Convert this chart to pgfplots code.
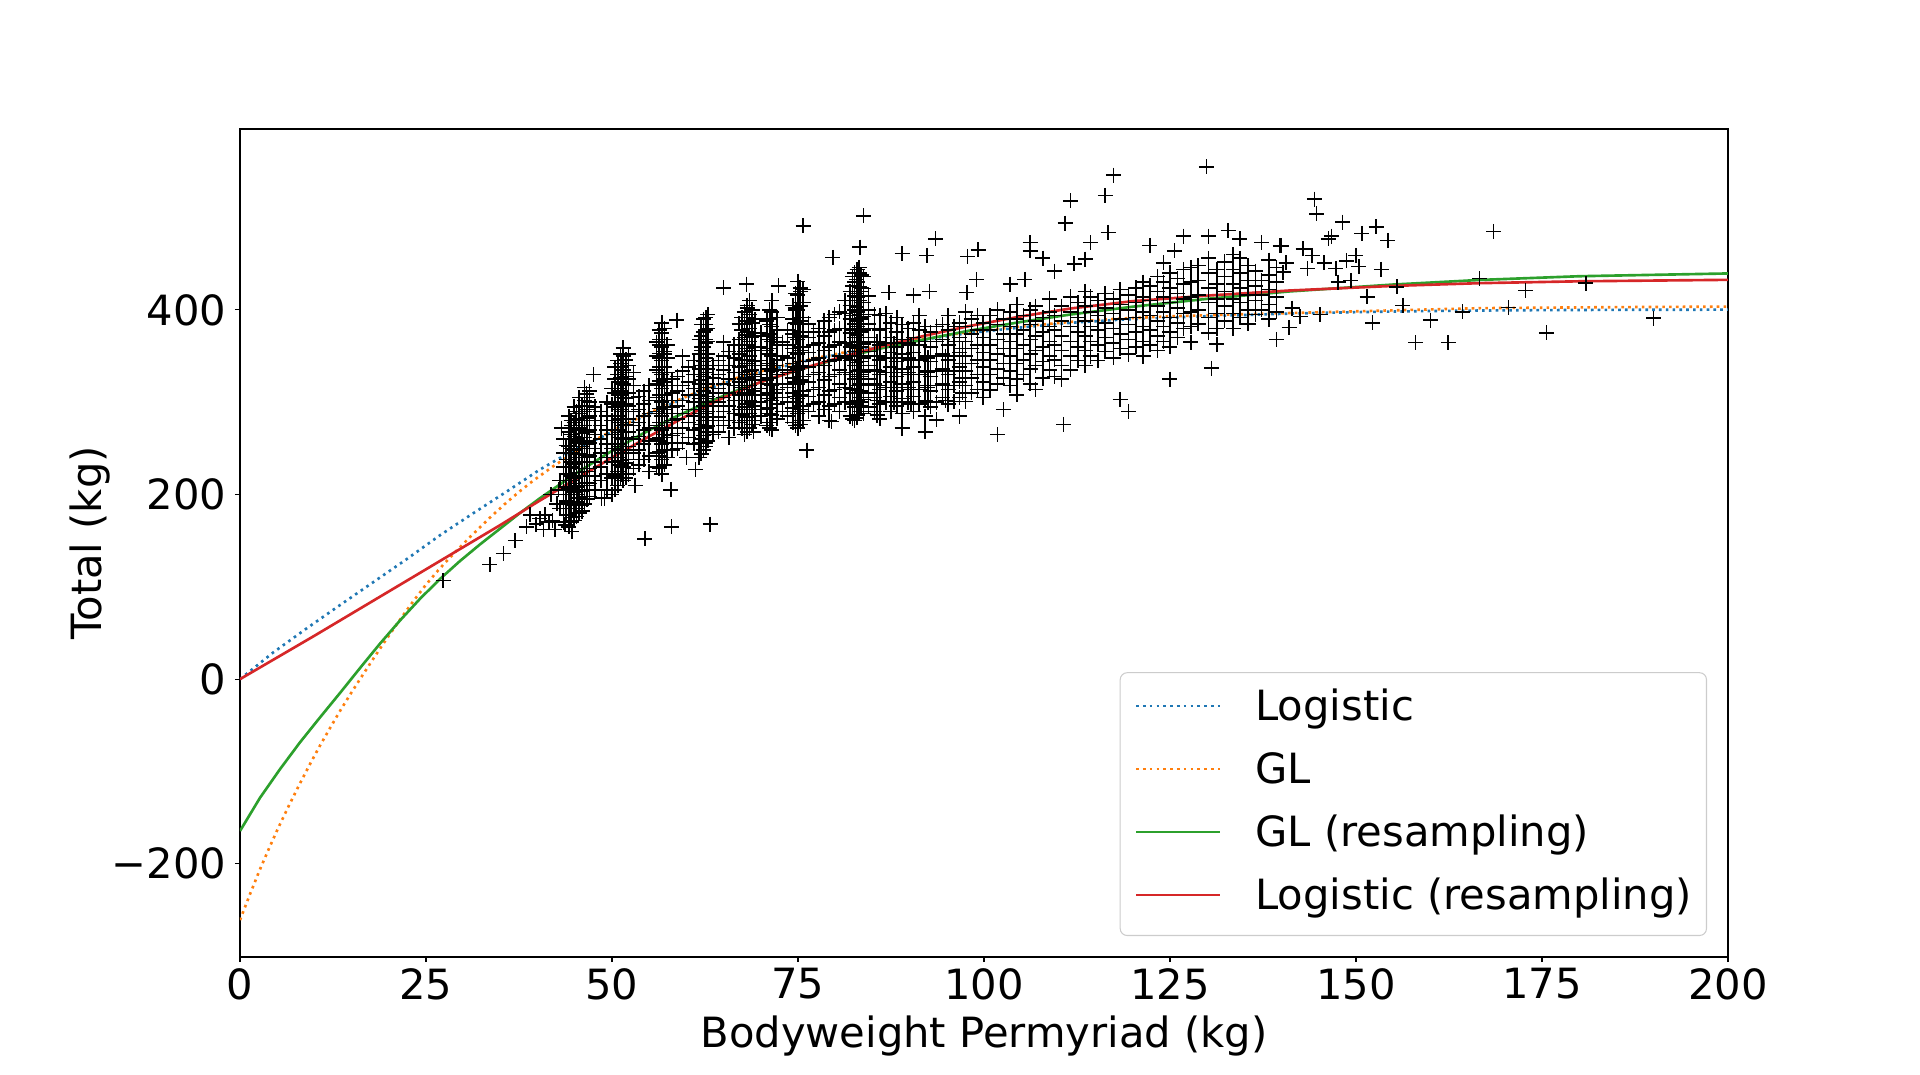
\documentclass[border=0pt]{standalone}
\usepackage{fontspec}
\setmainfont{DejaVu Sans}
\usepackage{pgfplots}
\pgfplotsset{compat=1.18}
\definecolor{tabblue}{HTML}{1F77B4}
\definecolor{taborange}{HTML}{FF7F0E}
\definecolor{tabgreen}{HTML}{2CA02C}
\definecolor{tabred}{HTML}{D62728}
\newcommand{\bigfont}{\fontsize{30}{36}\selectfont}
\begin{document}
\begin{tikzpicture}
\useasboundingbox (-172.8pt,-84.96pt) rectangle (1209.6pt,689.04pt);
\begin{axis}[
 scale only axis, width=1071.36pt, height=596.16pt,
 xmin=0, xmax=200, ymin=-301, ymax=596,
 xtick={0,25,50,75,100,125,150,175,200}, ytick={-200,0,200,400},
 xticklabels={0,25,50,75,100,125,150,175,200},
 yticklabels={−200,0,200,400},
 tick align=outside, xtick pos=bottom, ytick pos=left,
 major tick length=3.6pt,
 tick style={black, line width=0.75pt},
 axis line style={line width=0.75pt},
 tick label style={font=\bigfont},
 xticklabel style={anchor=north, inner sep=0pt, yshift=-4.3pt},
 yticklabel style={anchor=east, inner sep=0pt, xshift=-6.2pt},
 xlabel={Bodyweight Permyriad (kg)}, ylabel={Total (kg)},
 label style={font=\bigfont, inner sep=0pt},
 xlabel style={at={(axis description cs:0.5,-0.1087)}, anchor=base},
 ylabel style={at={(axis description cs:-0.0933,0.5)}, anchor=base},
 legend cell align=left,
 legend style={at={(axis description cs:1,0)}, anchor=south east, xshift=-15.1pt, yshift=15.1pt,
   draw=black!20, line width=0.75pt, rounded corners=5pt, fill=white, font=\bigfont,
   inner xsep=10.5pt, inner ysep=11.5pt, row sep=15.4pt, column sep=24.5pt,
   nodes={inner sep=0pt, text height=23pt, text depth=7pt}},
 legend image code/.code={\draw[#1] (0pt,2.6pt) -- (60.5pt,2.6pt);},
]
% ---------------- scatter ----------------
\addplot[only marks, mark=+, mark size=5.4pt, black, mark options={line width=1.15pt}, forget plot] coordinates {
(27.3,107) (33.6,124) (35.4,136) (37.0,150) (38.5,165) (39.0,178) (39.8,168) (40.3,174) (40.8,162) (41.0,178) (41.5,170) (42.0,172) (42.3,162) (42.6,190) (42.8,205) (43.0,215) (43.0,185) (43.2,272) (41.8,200)
(43.5,170) (43.5,185) (43.5,200) (43.5,215) (43.5,230) (43.5,245) (43.5,260)
(44.2,165) (44.2,178) (44.2,192) (44.2,207) (44.2,222) (44.2,238) (44.2,252) (44.2,268) (44.2,285)
(44.9,172) (44.9,188) (44.9,203) (44.9,218) (44.9,233) (44.9,248) (44.9,263) (44.9,278) (44.9,295)
(45.6,180) (45.6,196) (45.6,212) (45.6,228) (45.6,244) (45.6,258) (45.6,272) (45.6,288) (45.6,305)
(46.3,190) (46.3,205) (46.3,220) (46.3,235) (46.3,250) (46.3,262) (46.3,275) (46.3,290) (46.3,302) (46.3,316)
(47.0,198) (47.0,212) (47.0,228) (47.0,242) (47.0,256) (47.0,270) (47.0,285) (47.0,300) (47.0,312)
(47.7,205) (47.7,220) (47.7,235) (47.7,250) (47.7,265) (47.7,280) (47.7,295)
(47.5,330) (43.7,167) (44.6,160) (45.3,200) (46.0,182)
(44.5,175) (44.5,190) (44.5,205) (44.5,220) (44.5,235) (44.5,250) (44.5,265) (44.5,280) (45.2,185) (45.2,210) (45.2,235) (45.2,260) (45.2,282)
(46.6,198) (46.6,213) (46.6,228) (46.6,243) (46.6,258) (46.6,270) (46.6,283) (46.6,296) (46.6,309)
(48.5,215) (48.5,230) (48.5,245) (48.5,260) (48.5,275) (48.5,290)
(49.3,205) (49.3,222) (49.3,240) (49.3,255) (49.3,270) (49.3,285) (49.3,300)
(50.0,200) (50.0,218) (50.0,235) (50.0,250) (50.0,265) (50.0,280) (50.0,298) (50.0,315)
(50.8,210) (50.8,225) (50.8,240) (50.8,255) (50.8,270) (50.8,285) (50.8,300) (50.8,315) (50.8,330) (50.8,345)
(51.5,215) (51.5,230) (51.5,245) (51.5,260) (51.5,275) (51.5,290) (51.5,305) (51.5,320) (51.5,335) (51.5,350) (51.5,359)
(52.2,222) (52.2,238) (52.2,252) (52.2,268) (52.2,282) (52.2,296) (52.2,310) (52.2,325) (52.2,340) (52.2,352)
(52.9,228) (52.9,245) (52.9,260) (52.9,275) (52.9,290) (52.9,305) (52.9,318) (52.9,332)
(53.1,210) (49.0,196) (48.6,196)
(51.2,222) (51.2,237) (51.2,252) (51.2,267) (51.2,282) (51.2,297) (51.2,312) (51.2,327) (51.2,342) (51.8,268) (51.8,298) (51.8,328)
(53.6,232) (53.6,248) (53.6,263) (53.6,278) (53.6,292) (53.6,306)
(54.3,238) (54.3,255) (54.3,270) (54.3,285) (54.3,298) (54.3,312)
(55.0,225) (55.0,242) (55.0,258) (55.0,272) (55.0,288) (55.0,302) (55.0,318)
(56.0,230) (56.0,245) (56.0,260) (56.0,275) (56.0,290) (56.0,305) (56.0,320) (56.0,335) (56.0,350) (56.0,365)
(56.7,222) (56.7,238) (56.7,255) (56.7,270) (56.7,285) (56.7,300) (56.7,315) (56.7,330) (56.7,345) (56.7,360) (56.7,375) (56.7,386)
(57.4,240) (57.4,256) (57.4,272) (57.4,288) (57.4,302) (57.4,318) (57.4,332) (57.4,348) (57.4,362)
(58.1,248) (58.1,264) (58.1,280) (58.1,295) (58.1,310) (58.1,325)
(58.0,165) (54.4,152) (58.7,389) (57.9,205)
(56.4,230) (56.4,246) (56.4,262) (56.4,278) (56.4,293) (56.4,308) (56.4,323) (56.4,338) (56.4,353) (56.4,368) (57.0,265) (57.0,295) (57.0,325) (57.0,355)
(58.8,250) (58.8,266) (58.8,282) (58.8,296) (58.8,312) (58.8,328)
(59.5,256) (59.5,272) (59.5,288) (59.5,302) (59.5,318) (59.5,334) (59.5,350)
(60.3,262) (60.3,278) (60.3,292) (60.3,308) (60.3,322) (60.3,338)
(61.0,255) (61.0,270) (61.0,285) (61.0,300) (61.0,315) (61.0,330) (61.0,345)
(61.7,240) (61.7,256) (61.7,272) (61.7,288) (61.7,304) (61.7,320) (61.7,336) (61.7,352) (61.7,368)
(62.3,248) (62.3,264) (62.3,280) (62.3,296) (62.3,312) (62.3,328) (62.3,344) (62.3,360) (62.3,376) (62.3,390)
(62.9,258) (62.9,274) (62.9,290) (62.9,306) (62.9,320) (62.9,336) (62.9,352) (62.9,366) (62.9,380) (62.9,395)
(63.6,265) (63.6,280) (63.6,296) (63.6,310) (63.6,326) (63.6,340)
(63.2,168) (61.2,227) (65.0,424) (60.0,240)
(62.6,256) (62.6,272) (62.6,288) (62.6,304) (62.6,320) (62.6,336) (62.6,352) (62.6,368) (62.6,384) (62.0,300) (62.0,330) (62.0,360)
(64.3,268) (64.3,284) (64.3,300) (64.3,315) (64.3,330) (64.3,345)
(65.0,275) (65.0,290) (65.0,305) (65.0,320) (65.0,335) (65.0,350) (65.0,365)
(65.7,262) (65.7,280) (65.7,296) (65.7,310) (65.7,325) (65.7,340) (65.7,355)
(66.4,272) (66.4,288) (66.4,302) (66.4,318) (66.4,332) (66.4,348) (66.4,362)
(67.1,278) (67.1,292) (67.1,308) (67.1,322) (67.1,338) (67.1,352) (67.1,368) (67.1,385)
(67.8,265) (67.8,280) (67.8,295) (67.8,310) (67.8,325) (67.8,340) (67.8,355) (67.8,370) (67.8,385) (67.8,398)
(68.5,272) (68.5,288) (68.5,302) (68.5,318) (68.5,334) (68.5,350) (68.5,366) (68.5,380) (68.5,395) (68.5,410)
(69.2,280) (69.2,296) (69.2,312) (69.2,328) (69.2,344) (69.2,360) (69.2,375) (69.2,390)
(68.1,428) (69.0,268)
(68.2,280) (68.2,295) (68.2,310) (68.2,326) (68.2,342) (68.2,358) (68.2,373) (68.2,388) (68.2,402) (68.8,300) (68.8,335) (68.8,370)
(70.0,285) (70.0,300) (70.0,315) (70.0,330) (70.0,345) (70.0,360) (70.0,375)
(70.8,275) (70.8,292) (70.8,308) (70.8,324) (70.8,340) (70.8,356) (70.8,372) (70.8,388)
(71.5,270) (71.5,286) (71.5,302) (71.5,318) (71.5,334) (71.5,350) (71.5,366) (71.5,382) (71.5,398) (71.5,410)
(72.2,282) (72.2,298) (72.2,314) (72.2,330) (72.2,346) (72.2,362) (72.2,378) (72.2,392)
(72.9,290) (72.9,305) (72.9,320) (72.9,335) (72.9,350) (72.9,365)
(72.4,426)
(71.2,278) (71.2,294) (71.2,310) (71.2,326) (71.2,342) (71.2,358) (71.2,374) (71.2,390) (71.8,310) (71.8,340) (71.8,370)
(73.6,285) (73.6,300) (73.6,316) (73.6,332) (73.6,348) (73.6,362) (73.6,378)
(74.3,278) (74.3,294) (74.3,310) (74.3,326) (74.3,342) (74.3,358) (74.3,374) (74.3,390) (74.3,405)
(75.0,272) (75.0,288) (75.0,304) (75.0,320) (75.0,336) (75.0,352) (75.0,368) (75.0,384) (75.0,400) (75.0,416) (75.0,431)
(75.7,280) (75.7,296) (75.7,312) (75.7,328) (75.7,344) (75.7,360) (75.7,376) (75.7,392) (75.7,408) (75.7,422)
(76.4,290) (76.4,306) (76.4,322) (76.4,338) (76.4,354) (76.4,370) (76.4,385)
(77.1,298) (77.1,314) (77.1,330) (77.1,346) (77.1,362) (77.1,376)
(76.2,248) (75.7,491)
(75.3,280) (75.3,296) (75.3,312) (75.3,328) (75.3,344) (75.3,360) (75.3,376) (75.3,392) (75.3,408) (75.3,424) (74.7,300) (74.7,335) (74.7,370) (74.7,400)
(77.8,285) (77.8,300) (77.8,316) (77.8,332) (77.8,348) (77.8,364) (77.8,380)
(78.5,292) (78.5,308) (78.5,324) (78.5,340) (78.5,356) (78.5,372) (78.5,388)
(79.2,280) (79.2,296) (79.2,312) (79.2,328) (79.2,344) (79.2,360) (79.2,376) (79.2,392)
(79.9,298) (79.9,314) (79.9,330) (79.9,346) (79.9,362) (79.9,378) (79.9,395)
(80.6,290) (80.6,305) (80.6,320) (80.6,335) (80.6,350) (80.6,365) (80.6,380) (80.6,398)
(81.3,300) (81.3,316) (81.3,332) (81.3,348) (81.3,364) (81.3,380) (81.3,396) (81.3,410)
(79.5,279) (79.7,457) (83.3,468) (83.8,502)
(82.0,285) (82.0,300) (82.0,315) (82.0,330) (82.0,345) (82.0,360) (82.0,375) (82.0,390) (82.0,405) (82.0,420)
(82.6,280) (82.6,295) (82.6,310) (82.6,325) (82.6,340) (82.6,355) (82.6,370) (82.6,385) (82.6,400) (82.6,415) (82.6,430) (82.6,440)
(83.2,290) (83.2,305) (83.2,320) (83.2,335) (83.2,350) (83.2,365) (83.2,380) (83.2,395) (83.2,410) (83.2,425) (83.2,440) (83.2,446)
(83.8,288) (83.8,303) (83.8,318) (83.8,333) (83.8,348) (83.8,363) (83.8,378) (83.8,393) (83.8,408) (83.8,423) (83.8,436)
(84.5,295) (84.5,310) (84.5,325) (84.5,340) (84.5,355) (84.5,370) (84.5,385) (84.5,400) (84.5,415)
(82.9,283) (82.9,298) (82.9,313) (82.9,328) (82.9,343) (82.9,358) (82.9,373) (82.9,388) (82.9,403) (82.9,418) (82.9,433) (83.5,300) (83.5,330) (83.5,360) (83.5,390) (83.5,420) (82.3,310) (82.3,350) (82.3,390)
(85.3,290) (85.3,305) (85.3,320) (85.3,335) (85.3,350) (85.3,365) (85.3,380) (85.3,395)
(86.0,282) (86.0,298) (86.0,314) (86.0,330) (86.0,346) (86.0,362) (86.0,378) (86.0,394)
(86.8,300) (86.8,316) (86.8,332) (86.8,348) (86.8,364) (86.8,380) (86.8,396)
(87.5,290) (87.5,306) (87.5,322) (87.5,338) (87.5,354) (87.5,370) (87.5,386) (87.2,419)
(88.3,296) (88.3,312) (88.3,328) (88.3,344) (88.3,360) (88.3,376) (88.3,392)
(89.0,272) (89.0,288) (89.0,304) (89.0,320) (89.0,336) (89.0,352) (89.0,368) (89.0,384) (89.0,461)
(89.8,300) (89.8,316) (89.8,332) (89.8,348) (89.8,364) (89.8,380)
(90.5,290) (90.5,306) (90.5,322) (90.5,338) (90.5,354) (90.5,370) (90.5,386) (90.5,416)
(91.3,298) (91.3,314) (91.3,330) (91.3,346) (91.3,362) (91.3,378) (91.3,394)
(92.1,268) (92.1,285) (92.1,302) (92.1,318) (92.1,334) (92.1,350) (92.1,366) (92.1,382) (92.3,459)
(92.8,295) (92.8,312) (92.8,328) (92.8,344) (92.8,360) (92.8,376) (92.7,420)
(93.6,281) (93.6,300) (93.6,318) (93.6,334) (93.6,350) (93.6,366) (93.6,382) (93.5,477)
(94.4,305) (94.4,320) (94.4,336) (94.4,352) (94.4,368) (94.4,384)
(95.2,298) (95.2,314) (95.2,330) (95.2,346) (95.2,362) (95.2,378) (95.2,394)
(96.0,301) (96.0,318) (96.0,334) (96.0,350) (96.0,366) (96.0,382)
(96.7,285) (96.7,305) (96.7,322) (96.7,338) (96.7,354) (96.7,370) (96.7,386)
(97.5,301) (97.5,318) (97.5,334) (97.5,350) (97.5,366) (97.5,382) (97.5,398) (97.7,419)
(98.3,310) (98.3,326) (98.3,342) (98.3,358) (98.3,374) (98.3,390) (97.8,458)
(99.1,314) (99.1,330) (99.1,346) (99.1,362) (99.1,378) (99.1,394) (99.0,433) (99.2,465)
(99.9,305) (99.9,322) (99.9,338) (99.9,354) (99.9,370) (99.9,386)
(100.8,313) (100.8,330) (100.8,346) (100.8,362) (100.8,378) (100.8,394)
(101.8,265) (101.8,320) (101.8,336) (101.8,352) (101.8,368) (101.8,384) (101.8,400)
(102.6,292) (102.6,326) (102.6,342) (102.6,358) (102.6,374) (102.6,390)
(103.5,318) (103.5,334) (103.5,350) (103.5,366) (103.5,382) (103.5,398) (103.5,428)
(104.4,308) (104.4,325) (104.4,342) (104.4,358) (104.4,374) (104.4,390) (104.4,406)
(105.3,330) (105.3,346) (105.3,362) (105.3,378) (105.3,394) (105.5,433)
(106.2,320) (106.2,336) (106.2,352) (106.2,368) (106.2,384) (106.2,400) (106.2,464) (106.2,473)
(106.9,314) (106.9,340) (106.9,356) (106.9,372) (106.9,388) (106.9,404)
(107.9,326) (107.9,344) (107.9,360) (107.9,376) (107.9,392) (107.9,456)
(108.8,335) (108.8,350) (108.8,366) (108.8,382) (108.8,398) (108.8,412)
(109.5,328) (109.5,346) (109.5,362) (109.5,378) (109.5,394) (109.5,442)
(110.4,325) (110.4,340) (110.4,356) (110.4,372) (110.4,388) (110.4,404)
(110.7,276) (110.9,494)
(111.6,335) (111.6,350) (111.6,366) (111.6,382) (111.6,398) (111.6,414) (111.6,518)
(112.1,450)
(112.6,345) (112.6,360) (112.6,376) (112.6,392) (112.6,408)
(113.6,340) (113.6,356) (113.6,372) (113.6,388) (113.6,404) (113.6,420) (113.6,455)
(114.3,350) (114.3,366) (114.3,382) (114.3,398) (114.3,414) (114.3,473)
(115.3,345) (115.3,362) (115.3,378) (115.3,394) (115.3,410)
(116.3,355) (116.3,370) (116.3,386) (116.3,402) (116.3,418) (116.3,524)
(116.7,484)
(117.4,348) (117.4,364) (117.4,380) (117.4,396) (117.4,412) (117.4,546)
(118.3,303) (118.3,358) (118.3,374) (118.3,390) (118.3,406) (118.3,422)
(119.4,290) (119.4,352) (119.4,368) (119.4,384) (119.4,400) (119.4,416)
(120.4,360) (120.4,376) (120.4,392) (120.4,408) (120.4,424)
(121.4,350) (121.4,366) (121.4,382) (121.4,398) (121.4,414) (121.4,430)
(122.3,362) (122.3,378) (122.3,394) (122.3,410) (122.3,426) (122.3,470)
(123.3,356) (123.3,372) (123.3,388) (123.3,404) (123.3,420) (123.3,436)
(124.1,366) (124.1,382) (124.1,398) (124.1,414) (124.1,430) (124.1,451)
(125.0,325) (125.0,360) (125.0,376) (125.0,392) (125.0,408) (125.0,424) (125.0,440)
(125.6,464)
(126.0,370) (126.0,386) (126.0,402) (126.0,418) (126.0,434)
(126.8,380) (126.8,396) (126.8,412) (126.8,428) (126.8,444) (126.8,480)
(127.8,365) (127.8,382) (127.8,398) (127.8,414) (127.8,430) (127.8,446)
(128.8,385) (128.8,400) (128.8,416) (128.8,432) (128.8,448)
(129.9,555)
(130.2,375) (130.2,392) (130.2,408) (130.2,424) (130.2,440) (130.2,456) (130.2,480)
(130.6,337)
(131.3,363) (131.3,380) (131.3,396) (131.3,412) (131.3,428) (131.3,444)
(132.3,388) (132.3,404) (132.3,420) (132.3,436) (132.3,452)
(132.8,486)
(133.5,380) (133.5,396) (133.5,412) (133.5,428) (133.5,444) (133.5,460)
(134.4,392) (134.4,408) (134.4,424) (134.4,440) (134.4,456) (134.4,477)
(135.5,385) (135.5,400) (135.5,416) (135.5,432) (135.5,448)
(136.5,395) (136.5,410) (136.5,426) (136.5,442)
(137.3,400) (137.3,416) (137.3,432) (137.3,473)
(138.3,390) (138.3,406) (138.3,422) (138.3,438) (138.3,454)
(139.3,368) (139.3,398) (139.3,414) (139.3,430) (139.3,446)
(139.8,469.5)
(144.4,520) (144.7,504) (148.2,495) (152.7,490) (150.8,483) (146.7,480) (146.3,477) (154.3,475)
(140.0,469.5) (142.9,466) (144.1,459) (140.6,451) (140.2,441) (143.5,445) (145.7,451) (147.3,445)
(148.7,453) (150.0,459) (150.4,447) (153.4,444) (147.6,430) (149.3,432) (151.5,414) (155.5,425)
(156.3,405) (141.4,402) (142.5,393) (141.0,381) (145.2,395) (152.2,386) (158.0,364.5) (162.4,364.5)
(160.0,389) (164.3,398) (166.6,434) (168.5,485) (170.5,402.5) (172.8,421) (175.6,375) (180.9,429) (190.0,391)
};
% second layer: the cores of the weight-class spikes and the densest band
\addplot[only marks, mark=+, mark size=5.4pt, black, mark options={line width=1.15pt}, forget plot] coordinates {
(43.85,178) (43.85,193) (43.85,208) (43.85,223) (43.85,238) (43.85,253)
(44.55,170) (44.55,185) (44.55,200) (44.55,215) (44.55,230) (44.55,245) (44.55,260) (44.55,275)
(45.25,176) (45.25,192) (45.25,208) (45.25,224) (45.25,240) (45.25,256) (45.25,270) (45.25,290)
(45.95,188) (45.95,204) (45.95,220) (45.95,236) (45.95,252) (45.95,266) (45.95,280) (45.95,296)
(46.65,195) (46.65,210) (46.65,225) (46.65,240) (46.65,255) (46.65,268) (46.65,280) (46.65,292) (46.65,305)
(50.4,205) (50.4,220) (50.4,235) (50.4,250) (50.4,265) (50.4,280) (50.4,295) (50.4,310) (50.4,325) (50.4,338)
(51.15,218) (51.15,232) (51.15,248) (51.15,262) (51.15,278) (51.15,292) (51.15,308) (51.15,322) (51.15,338) (51.15,352)
(51.85,218) (51.85,234) (51.85,248) (51.85,262) (51.85,276) (51.85,290) (51.85,304) (51.85,318) (51.85,332) (51.85,346)
(56.35,228) (56.35,242) (56.35,258) (56.35,272) (56.35,288) (56.35,302) (56.35,318) (56.35,332) (56.35,348) (56.35,362) (56.35,378)
(57.05,232) (57.05,248) (57.05,262) (57.05,278) (57.05,292) (57.05,308) (57.05,322) (57.05,338) (57.05,352) (57.05,368) (57.05,380)
(62.0,244) (62.0,260) (62.0,276) (62.0,292) (62.0,308) (62.0,324) (62.0,340) (62.0,356) (62.0,372) (62.0,384)
(62.6,252) (62.6,268) (62.6,284) (62.6,300) (62.6,316) (62.6,332) (62.6,348) (62.6,364) (62.6,378) (62.6,392)
(67.45,272) (67.45,286) (67.45,302) (67.45,316) (67.45,332) (67.45,346) (67.45,362) (67.45,378) (67.45,392)
(68.15,268) (68.15,284) (68.15,298) (68.15,314) (68.15,330) (68.15,346) (68.15,362) (68.15,376) (68.15,392) (68.15,405)
(68.85,276) (68.85,292) (68.85,308) (68.85,324) (68.85,340) (68.85,356) (68.85,372) (68.85,386) (68.85,400)
(71.15,272) (71.15,288) (71.15,304) (71.15,320) (71.15,336) (71.15,352) (71.15,368) (71.15,384) (71.15,400)
(74.65,275) (74.65,290) (74.65,306) (74.65,322) (74.65,338) (74.65,354) (74.65,370) (74.65,386) (74.65,402) (74.65,418)
(75.35,276) (75.35,292) (75.35,308) (75.35,324) (75.35,340) (75.35,356) (75.35,372) (75.35,388) (75.35,404) (75.35,420)
(82.3,282) (82.3,298) (82.3,314) (82.3,330) (82.3,346) (82.3,362) (82.3,378) (82.3,394) (82.3,410) (82.3,426) (82.3,436)
(82.95,286) (82.95,302) (82.95,318) (82.95,334) (82.95,350) (82.95,366) (82.95,382) (82.95,398) (82.95,414) (82.95,430) (82.95,444)
(83.5,296) (83.5,312) (83.5,328) (83.5,344) (83.5,360) (83.5,376) (83.5,392) (83.5,408) (83.5,424) (83.5,438)
(85.65,286) (85.65,302) (85.65,318) (85.65,334) (85.65,350) (85.65,366)
(87.9,300) (87.9,316) (87.9,332) (87.9,348) (87.9,364)
(90.15,298) (90.15,314) (90.15,330) (90.15,346) (90.15,362)
(92.45,300) (92.45,316) (92.45,332) (92.45,348)
(94.8,302) (94.8,318) (94.8,334) (94.8,350)
(97.1,310) (97.1,326) (97.1,342) (97.1,358)
};
% ---------------- fitted curves ----------------
\addplot[tabblue, line width=1.9pt, dash pattern=on 1.9pt off 3.0pt] coordinates {
(0,0) (4.48,29) (8.96,55) (13.4,80) (17.9,105) (22.4,130) (26.9,156) (31.4,180) (35.8,203) (40.3,227)
(44.8,248) (49.3,265) (53.8,283) (58.2,299) (62.7,314) (67.2,326.5) (71.7,336) (76.2,345) (80.6,352)
(86,360) (92,368) (98,375) (105,381) (111.6,386) (118,389.3) (125,391.8) (133,394) (141,396) (150,397.6)
(160,398.8) (170,399.6) (185,400.1) (200,400.3)};
\addlegendentry{Logistic}
\addplot[taborange, line width=1.9pt, dash pattern=on 1.9pt off 3.0pt] coordinates {
(0,-261) (1.34,-233) (2.69,-206) (4.03,-181) (5.15,-161) (6.72,-134.5) (8.06,-113) (9.41,-92) (10.75,-72)
(12.1,-53) (13.44,-34.5) (14.78,-17) (16.13,0) (17.7,19.5) (19.27,38.5) (20.6,54) (21.95,69.5) (23.3,84.5)
(24.87,101) (26.43,116) (27.78,128) (29.57,143) (31.36,157.5) (33.6,175) (35.84,191.5) (37.6,203.5)
(39.4,215) (42,230) (44.8,245) (47,256) (49.3,266) (53.8,284) (58.2,300) (62.7,315) (67.2,327.5)
(71.7,337) (76.2,346) (80.6,353) (86,361) (92,369) (98,376) (105,382) (111.6,387) (118,390.5) (125,393)
(133,395) (141,396.6) (150,398.5) (166.7,401.9) (185,403) (200,403.6)};
\addlegendentry{GL}
\addplot[tabgreen, line width=1.9pt] coordinates {
(0,-164.5) (2.69,-128.5) (5.38,-97.5) (8.06,-68.5) (10.75,-41.5) (13.44,-15) (16.13,12) (18.82,38.5)
(21.5,63.5) (24.19,87) (26.88,108.5) (29.57,128) (32.26,146) (34.95,163) (37.63,180) (40.32,196)
(44.8,221) (49.3,244) (53.8,264.5) (58.2,283) (62.7,299.5) (67.2,314) (71.7,326.5) (76.2,337.5)
(80.6,347.5) (86,358) (92,368) (98,377.5) (105,387) (111.6,395) (120,403.5) (130,412) (141,420)
(155,427.5) (166.7,432.5) (180,436.5) (200,439.5)};
\addlegendentry{GL (resampling)}
\addplot[tabred, line width=1.9pt] coordinates {
(0,0) (5,23.5) (10,47) (15,71) (20,95) (25,119) (30,143) (35,167) (40,192) (45,216) (50,240) (55,263)
(60,285) (65,305) (70,322) (75,335) (80,347) (86,360) (92,372) (98,382.5) (105,393) (111.6,401.5)
(120,409.5) (130,415.5) (141,421) (155,426) (166.7,429) (180,431) (200,432.6)};
\addlegendentry{Logistic (resampling)}
\end{axis}
\end{tikzpicture}
\end{document}
